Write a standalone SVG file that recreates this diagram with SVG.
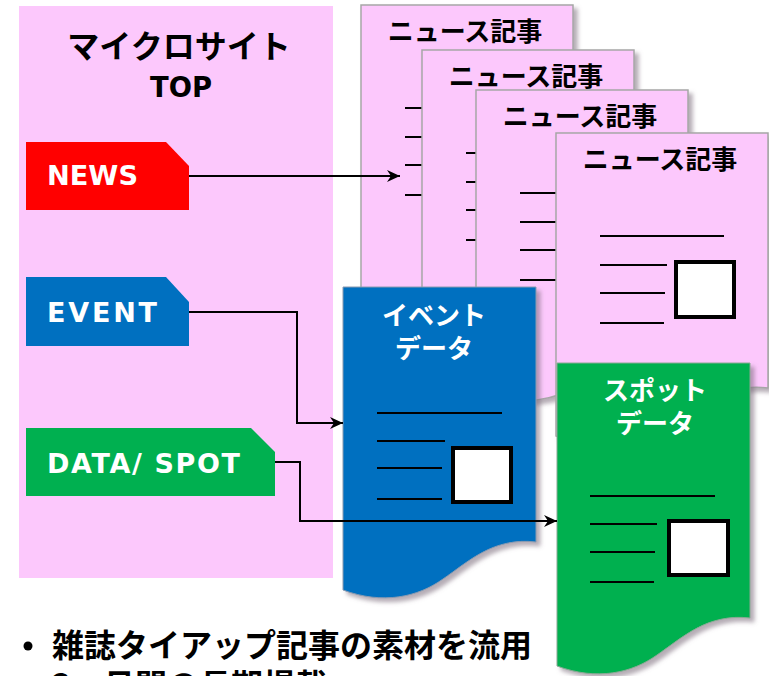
<svg xmlns="http://www.w3.org/2000/svg" xmlns:xlink="http://www.w3.org/1999/xlink" width="769" height="676" viewBox="0 0 769 676">
<style>
.jp{font-family:"Noto Sans CJK JP","Noto Sans",sans-serif;font-weight:bold}
.lat{font-family:"DejaVu Sans","Noto Sans CJK JP",sans-serif;font-weight:bold}
.ln{stroke:#000;stroke-width:2;fill:none}
.box{stroke:#000;stroke-width:4;fill:#fff}
.pink{fill:#FCC8FC;stroke:#A6A6A6;stroke-width:1.5}
.conn{stroke:#000;stroke-width:2;fill:none}
</style>
<defs>
<filter id="sh" x="-10%" y="-10%" width="130%" height="130%">
<feDropShadow dx="4" dy="4" stdDeviation="2" flood-color="#7a6a7a" flood-opacity="0.55"/>
</filter>
<path id="pdoc" d="M0,0 H212 V255 C164.8,250 137.3,275 109.8,292 C82.4,310 43.9,318 0,303 Z"/>
<path id="doc" d="M0,0 H193 V255 C150,250 125,275 100,292 C75,310 40,318 0,303 Z"/>
<g id="pc">
<line class="ln" x1="44" y1="103" x2="168" y2="103"/>
<line class="ln" x1="44" y1="132" x2="111" y2="132"/>
<line class="ln" x1="44" y1="160" x2="109" y2="160"/>
<line class="ln" x1="44" y1="190" x2="108" y2="190"/>
<rect class="box" x="120" y="129" width="58" height="55"/>
</g>
<marker id="ar" markerUnits="userSpaceOnUse" markerWidth="16" markerHeight="14" refX="13" refY="6" orient="auto">
<path d="M0,0 L13,6 L0,12 L4,6 Z" fill="#000"/>
</marker>
</defs>

<g id="panel">
<rect x="19" y="6" width="314" height="572" fill="#FCC8FC"/>
<text class="jp" x="179" y="58" font-size="32" text-anchor="middle">マイクロサイト</text>
<text class="lat" x="181" y="97" font-size="28" text-anchor="middle" textLength="62" lengthAdjust="spacingAndGlyphs">TOP</text>
</g>

<g id="tag-news">
<path d="M26,142 H166 L189,166 V210 H26 Z" fill="#FF0000"/>
<text class="lat" x="47" y="185" font-size="26" fill="#fff" textLength="91" lengthAdjust="spacingAndGlyphs">NEWS</text>
</g>
<g id="tag-event">
<path d="M26,277 H166 L189,302 V346 H26 Z" fill="#0070C0"/>
<text class="lat" x="47" y="322" font-size="27" fill="#fff" textLength="110" lengthAdjust="spacing">EVENT</text>
</g>
<g id="tag-data">
<path d="M26,428 H251 L275,452 V496 H26 Z" fill="#00B050"/>
<text class="lat" x="47" y="473" font-size="27" fill="#fff" textLength="193" lengthAdjust="spacing">DATA/ SPOT</text>
</g>

<g id="news1" transform="translate(361,5)">
<use xlink:href="#pdoc" class="pink" filter="url(#sh)"/>
<text class="jp" x="104" y="36" font-size="26" text-anchor="middle">ニュース記事</text>
<use xlink:href="#pc"/>
</g>
<g id="news2" transform="translate(422,50)">
<use xlink:href="#pdoc" class="pink" filter="url(#sh)"/>
<text class="jp" x="104" y="36" font-size="26" text-anchor="middle">ニュース記事</text>
<use xlink:href="#pc"/>
</g>
<g id="news3" transform="translate(476,90)">
<use xlink:href="#pdoc" class="pink" filter="url(#sh)"/>
<text class="jp" x="104" y="36" font-size="26" text-anchor="middle">ニュース記事</text>
<use xlink:href="#pc"/>
</g>
<g id="news4" transform="translate(556,133)">
<use xlink:href="#pdoc" class="pink" filter="url(#sh)"/>
<text class="jp" x="104" y="36" font-size="26" text-anchor="middle">ニュース記事</text>
<use xlink:href="#pc"/>
</g>

<g id="event-data" transform="translate(343,287)">
<use xlink:href="#doc" fill="#0070C0" stroke="#8a9ab0" stroke-width="1" filter="url(#sh)"/>
<text class="jp" x="91" y="38" font-size="26" fill="#fff" text-anchor="middle">イベント</text>
<text class="jp" x="91" y="71" font-size="26" fill="#fff" text-anchor="middle">データ</text>
<line class="ln" x1="34" y1="126" x2="159" y2="126"/>
<line class="ln" x1="34" y1="154" x2="102" y2="154"/>
<line class="ln" x1="34" y1="181" x2="99" y2="181"/>
<line class="ln" x1="34" y1="212" x2="99" y2="212"/>
<rect class="box" x="110" y="161" width="58" height="54"/>
</g>

<g id="spot-data" transform="translate(557,363)">
<use xlink:href="#doc" fill="#00B050" stroke="#8aa894" stroke-width="1" filter="url(#sh)"/>
<text class="jp" x="98" y="37" font-size="26" fill="#fff" text-anchor="middle">スポット</text>
<text class="jp" x="98" y="70" font-size="26" fill="#fff" text-anchor="middle">データ</text>
<line class="ln" x1="33" y1="133" x2="158" y2="133"/>
<line class="ln" x1="33" y1="161" x2="100" y2="161"/>
<line class="ln" x1="33" y1="189" x2="98" y2="189"/>
<line class="ln" x1="33" y1="219" x2="97" y2="219"/>
<rect class="box" x="112" y="158" width="59" height="54"/>
</g>

<g id="connectors">
<path class="conn" d="M189,176 H400" marker-end="url(#ar)"/>
<path class="conn" d="M189,312 H297 V423 H343" marker-end="url(#ar)"/>
<path class="conn" d="M275,462 H300 V521 H557" marker-end="url(#ar)"/>
</g>

<g id="notes">
<circle cx="28" cy="646" r="4.5" fill="#000"/>
<text class="jp" x="52" y="657" font-size="32">雑誌タイアップ記事の素材を流用</text>
<text class="jp" x="52" y="697" font-size="32">3ヶ月間の長期掲載</text>
</g>
</svg>
